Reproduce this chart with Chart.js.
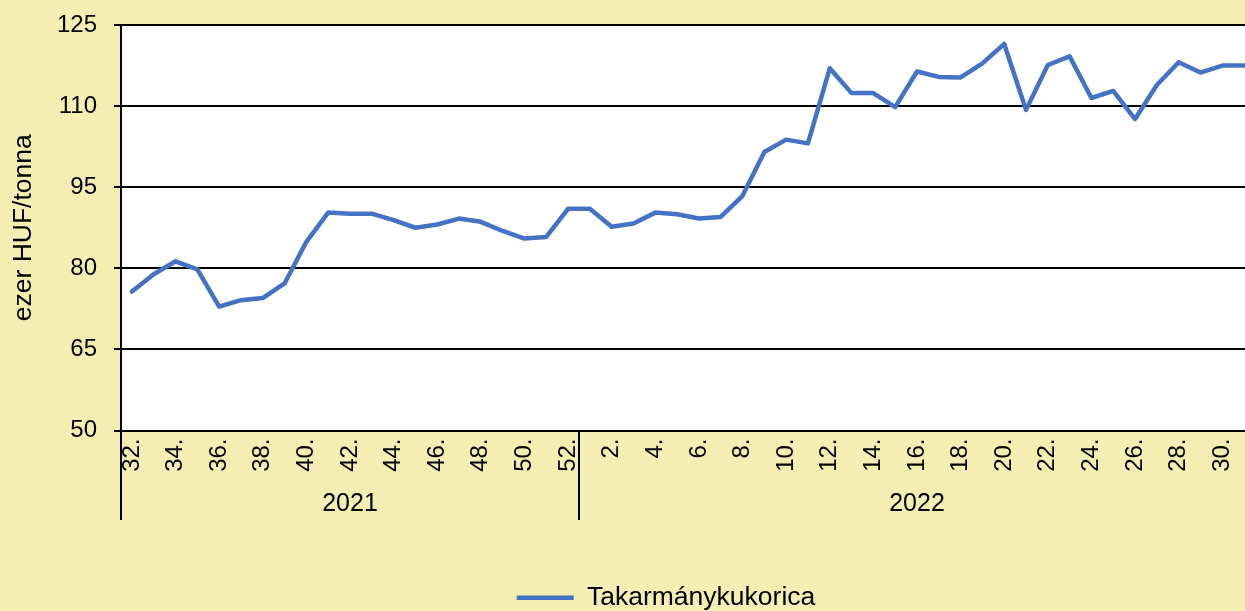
<!DOCTYPE html>
<html>
<head>
<meta charset="utf-8">
<script src="https://cdn.jsdelivr.net/npm/chart.js@4/dist/chart.umd.min.js"></script>
<style>
body{margin:0;background:#F5EEB2;overflow:hidden}
#wrap{width:1245px;height:611px;overflow:hidden}
</style>
</head>
<body>
<div id="wrap"><canvas id="chart" width="1332" height="621"></canvas></div>
<script>
// weeks per year (category axis, two levels)
const years = ['2021', '2022']
const weeks2021 = [32,33,34,35,36,37,38,39,40,41,42,43,44,45,46,47,48,49,50,51,52]
const weeks2022 = [1,2,3,4,5,6,7,8,9,10,11,12,13,14,15,16,17,18,19,20,21,22,23,24,25,26,27,28,29,30,31]

// ezer HUF/tonna
const corn2021 = [75.7,78.9,81.3,79.8,72.9,74.1,74.5,77.2,84.9,90.3,90.1,90.1,88.9,87.5,88.1,89.2,88.6,86.9,85.5,85.8,91.0]
const corn2022 = [91.0,87.7,88.3,90.3,90.0,89.2,89.5,93.4,101.5,103.8,103.1,117.0,112.4,112.4,109.8,116.4,115.4,115.3,117.9,121.5,109.3,117.6,119.2,111.5,112.8,107.6,113.9,118.1,116.2,117.5,117.5]

const yTicks = [50, 65, 80, 95, 110, 125]

const yearCounts = [weeks2021.length, weeks2022.length]
const weeks = weeks2021.concat(weeks2022)
const labels = weeks.map(w => w + '.')

Chart.defaults.font.family = '"Liberation Sans", Arial, sans-serif'
Chart.defaults.color = '#000'

// white plot area: painted just before the line, then the y grid again on top
const plotBg = {
  id: 'plotBg',
  beforeDatasetsDraw(chart) {
    const a = chart.chartArea
    const ctx = chart.ctx
    ctx.save()
    ctx.globalCompositeOperation = 'source-over'
    ctx.globalAlpha = 1
    ctx.fillStyle = '#ffffff'
    ctx.fillRect(a.left, a.top, a.width, a.height)
    ctx.restore()
    chart.scales.y.drawGrid(a)
    chart.scales.y.drawBorder()
  }
}

// second level of the category axis (year names, separators)
const yearGroups = {
  id: 'yearGroups',
  afterDraw(chart) {
    const x = chart.scales.x
    const ctx = chart.ctx
    const a = chart.chartArea
    const half = (x.getPixelForValue(1) - x.getPixelForValue(0)) / 2
    let start = 0
    ctx.save()
    ctx.strokeStyle = '#000'
    ctx.lineWidth = 2
    ctx.fillStyle = '#000'
    ctx.font = '25px "Liberation Sans", Arial, sans-serif'
    ctx.textAlign = 'center'
    ctx.textBaseline = 'middle'
    years.forEach((yr, g) => {
      const n = yearCounts[g]
      const x0 = x.getPixelForValue(start) - half
      const x1 = x.getPixelForValue(start + n - 1) + half
      ;[x0, x1].forEach(px => {
        ctx.beginPath()
        ctx.moveTo(Math.round(px), a.bottom)
        ctx.lineTo(Math.round(px), 520)
        ctx.stroke()
      })
      ctx.fillText(yr, (x0 + x1) / 2, 504)
      start += n
    })
    ctx.restore()
  }
}

new Chart(document.getElementById('chart'), {
  type: 'line',
  data: {
    labels: labels,
    datasets: [{
      label: 'Takarmánykukorica',
      data: corn2021.concat(corn2022),
      borderColor: '#4472C4',
      backgroundColor: '#4472C4',
      borderWidth: 4.5,
      borderCapStyle: 'round',
      borderJoinStyle: 'round',
      pointRadius: 0,
      tension: 0
    }]
  },
  options: {
    responsive: false,
    animation: false,
    layout: { padding: { top: 25, right: 0, left: 0, bottom: 0 } },
    scales: {
      x: {
        offset: true,
        grid: { display: false, drawTicks: false },
        border: { display: false },
        ticks: {
          autoSkip: false,
          minRotation: 90,
          maxRotation: 90,
          padding: 8,
          font: { size: 24 },
          callback: (v, i) => weeks[i] % 2 === 0 ? labels[i] : ''
        },
        afterFit: s => { s.height = 144 }
      },
      y: {
        min: 50,
        max: 125,
        afterBuildTicks: s => { s.ticks = yTicks.map(v => ({ value: v })) },
        grid: { color: '#000', lineWidth: 2, tickLength: 7 },
        border: { display: true, color: '#000', width: 2 },
        ticks: { padding: 17, font: { size: 24 } },
        title: {
          display: true,
          text: 'ezer HUF/tonna',
          font: { size: 26.5 },
          padding: { top: 8, bottom: 0 }
        },
        afterFit: s => { s.width = 121; s.paddingTop = 0; s.paddingBottom = 0 }
      },
      // empty right margin of the original (cropped) chart
      yRight: {
        position: 'right',
        display: true,
        grid: { display: false, drawTicks: false },
        border: { display: false },
        ticks: { display: false },
        afterFit: s => { s.width = 77; s.paddingTop = 0; s.paddingBottom = 0 }
      }
    },
    plugins: {
      tooltip: { enabled: false },
      legend: {
        position: 'bottom',
        labels: {
          usePointStyle: true,
          pointStyle: 'line',
          pointStyleWidth: 57,
          padding: 10,
          font: { size: 26.5 },
          color: '#000'
        }
      }
    }
  },
  plugins: [plotBg, yearGroups]
})
</script>
</body>
</html>
